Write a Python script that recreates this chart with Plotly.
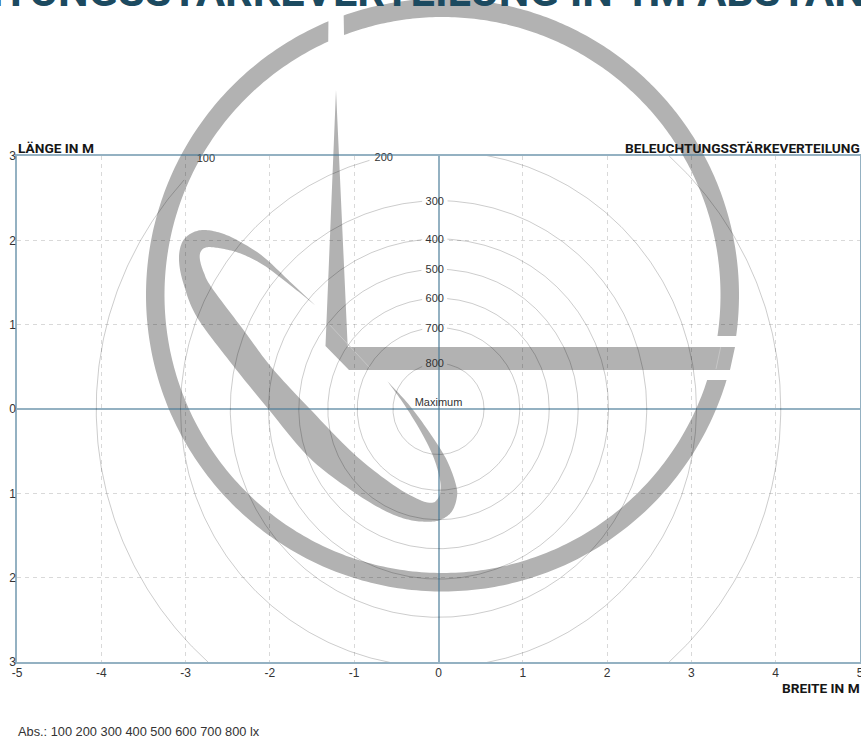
import numpy as np
import plotly.graph_objects as go

# ---- chart data -------------------------------------------------------
contour_values = [100, 200, 300, 400, 500, 600, 700, 800]
contour_radii = [4.06, 3.06, 2.47, 2.017, 1.657, 1.313, 0.964, 0.54]
label_x = [-2.76, -0.65, -0.044, -0.044, -0.044, -0.044, -0.044, -0.044]
label_y = [2.96, 2.97, 2.45, 2.005, 1.645, 1.30, 0.95, 0.525]
gap_left = [-3.0, -0.8, -0.19, -0.19, -0.19, -0.19, -0.19, -0.19]
gap_right = [-2.52, -0.5, 0.10, 0.10, 0.10, 0.10, 0.10, 0.10]
x_ticks = [-5, -4, -3, -2, -1, 0, 1, 2, 3, 4, 5]
y_ticks = [-3, -2, -1, 0, 1, 2, 3]
y_tick_text = ["3", "2", "1", "0", "1", "2", "3"]
max_label = "Maximum"
max_x = [0.0]
max_y = [0.07]

W, H = 861, 738
L, R, T, B = 17, 860, 156, 662


def px(x, y):
    return (x - L) / (R - L), (B - y) / (B - T)


def px_path(points, start=True):
    out = []
    for i, (x, y) in enumerate(points):
        a, b = px(x, y)
        out.append(("M" if (i == 0 and start) else "L") + f"{a:.5f},{b:.5f}")
    return " ".join(out)


def spline(points, n=12):
    p = np.array(points, float)
    p = np.vstack([2 * p[0] - p[1], p, 2 * p[-1] - p[-2]])
    out = []
    for i in range(1, len(p) - 2):
        for t in np.linspace(0, 1, n, endpoint=False):
            out.append(0.5 * ((2 * p[i]) + (p[i + 1] - p[i - 1]) * t
                              + (2 * p[i - 1] - 5 * p[i] + 4 * p[i + 1] - p[i + 2]) * t ** 2
                              + (3 * p[i] - p[i - 1] - 3 * p[i + 1] + p[i + 2]) * t ** 3))
    out.append(p[-2])
    return [tuple(q) for q in out]


# ---- grey logo watermark (pixel geometry) ------------------------------
LOGO = "#b2b2b2"
cx, cy, r_out, r_in = 442.5, 295.0, 296.5, 278.0


def arc(r, p0, p1, n=180):
    a0 = np.arctan2(p0[1] - cy, p0[0] - cx)
    a1 = np.arctan2(p1[1] - cy, p1[0] - cx)
    if a1 < a0:
        a1 += 2 * np.pi
    a = np.linspace(a0, a1, n)
    return list(zip(cx + r * np.cos(a), cy + r * np.sin(a)))


ring_a = arc(r_out, (343.5, 15), (736, 336)) + arc(r_in, (344, 35), (717.5, 336))[::-1]
ring_b = arc(r_out, (726.5, 380), (328.3, 21), 260) + arc(r_in, (707, 380), (328, 41), 260)[::-1]
hand = [(336, 90), (347.7, 347), (735, 347), (730, 370), (349, 370), (325.5, 346)]
swoosh_outer = [(387.3, 381), (410, 406), (430, 433.3), (446.7, 460), (456, 485), (456.7, 498.3),
                (451.7, 511.7), (441.7, 519.3), (430, 521.7), (410, 520), (386.7, 511.7),
                (353.3, 491.7), (310, 458.3), (268.3, 409), (230, 361.7), (196.7, 316.7),
                (183.3, 283), (179, 260), (181.7, 243.3), (190, 234), (203.3, 230), (221.7, 233.3),
                (240, 241.7), (263.3, 256.7), (290, 281.7), (315.7, 305.7)]
swoosh_inner = [(315.7, 305.7), (290, 285), (263.3, 265), (240, 253.3), (220, 248.3), (206.7, 247.3),
                (200.7, 251.7), (200, 260), (204, 273), (212, 288), (245, 332), (272, 368),
                (310, 409), (353.3, 453.3), (393.3, 485), (420, 500), (431.7, 502.7), (436.7, 500),
                (440, 493.3), (440, 480), (433.3, 456.7), (420, 430), (403.3, 403.3), (387.3, 381)]
swoosh = spline(swoosh_outer) + spline(swoosh_inner)

shapes = []
for poly in (ring_a, ring_b, hand, swoosh):
    shapes.append(dict(type="path", xref="paper", yref="paper", layer="below",
                       path=px_path(poly) + " Z", fillcolor=LOGO, line=dict(width=0)))
for seam in ([(328, 323), (370, 368)], [(720.7, 347), (716, 369)]):
    shapes.append(dict(type="path", xref="paper", yref="paper", layer="below",
                       path=px_path(seam), line=dict(color="#c6c6c6", width=1)))

# ---- figure ------------------------------------------------------------
fig = go.Figure()
angles = np.linspace(0, 2 * np.pi, 721)
for r, g0, g1 in zip(contour_radii, gap_left, gap_right):
    x = r * np.cos(angles)
    y = r * np.sin(angles)
    y[(y > 0) & (x > g0) & (x < g1)] = np.nan
    fig.add_trace(go.Scatter(x=x, y=y, mode="lines", hoverinfo="skip", connectgaps=False,
                             line=dict(color="rgba(0,0,0,0.2)", width=1)))

fig.add_trace(go.Scatter(x=label_x + max_x, y=label_y + max_y, mode="text",
                         text=[str(v) for v in contour_values] + [max_label],
                         textposition="middle center", cliponaxis=False,
                         textfont=dict(family="Liberation Sans", size=11, color="#333333")))

FRAME = "rgba(70,120,150,0.58)"
GRID = "rgba(0,0,0,0.15)"
fig.update_xaxes(range=[-5, 5], tickvals=x_ticks, ticktext=[str(v) for v in x_ticks],
                 automargin=False, ticklabeloverflow="allow", ticklabelstandoff=-1,
                 showgrid=True, gridcolor=GRID, griddash="4px,4px", gridwidth=1,
                 zeroline=True, zerolinecolor=FRAME, zerolinewidth=1.5,
                 showline=True, linecolor=FRAME, linewidth=1.5, mirror=True,
                 ticks="", tickfont=dict(family="Liberation Sans", size=12, color="#333333"))
fig.update_yaxes(range=[-3, 3], tickvals=y_ticks, ticktext=y_tick_text,
                 automargin=False, ticklabeloverflow="allow", ticklabelstandoff=-3,
                 showgrid=True, gridcolor=GRID, griddash="4px,4px", gridwidth=1,
                 zeroline=True, zerolinecolor=FRAME, zerolinewidth=1.5,
                 showline=True, linecolor=FRAME, linewidth=1.5, mirror=True,
                 ticks="", tickfont=dict(family="Liberation Sans", size=12, color="#333333"))


def note(text, x, y, size, color, family, xanchor, yanchor="middle"):
    a, b = px(x, y)
    return dict(text=text, x=a, y=b, xref="paper", yref="paper", xanchor=xanchor, yanchor=yanchor,
                showarrow=False, font=dict(family=family, size=size, color=color),
                borderpad=0, borderwidth=0)


HEAD = "#161616"
annotations = [
    note("<b>BELEUCHTUNGSSTÄRKEVERTEILUNG IN 1M ABSTAND</b>", 354, -9, 43.3, "#1c4a60", "Roboto", "center"),
    note("<b>LÄNGE IN M</b>", 18, 147.5, 13.7, HEAD, "Roboto", "left"),
    note("<b>BELEUCHTUNGSSTÄRKEVERTEILUNG</b>", 860, 147.5, 13.7, HEAD, "Roboto", "right"),
    note("<b>BREITE IN M</b>", 860, 687.5, 13.7, HEAD, "Roboto", "right"),
    note("Abs.: 100 200 300 400 500 600 700 800 lx", 18, 731.5, 12.8, "#333333", "Liberation Sans", "left"),
]

fig.update_layout(width=W, height=H, autosize=False,
                  margin=dict(l=L, r=W - R, t=T, b=H - B, pad=0),
                  paper_bgcolor="white", plot_bgcolor="rgba(0,0,0,0)",
                  showlegend=False, shapes=shapes, annotations=annotations)
fig.write_html("out.html", config={"displayModeBar": False},
               post_script="document.body.style.margin='0';document.body.style.overflow='hidden';")
